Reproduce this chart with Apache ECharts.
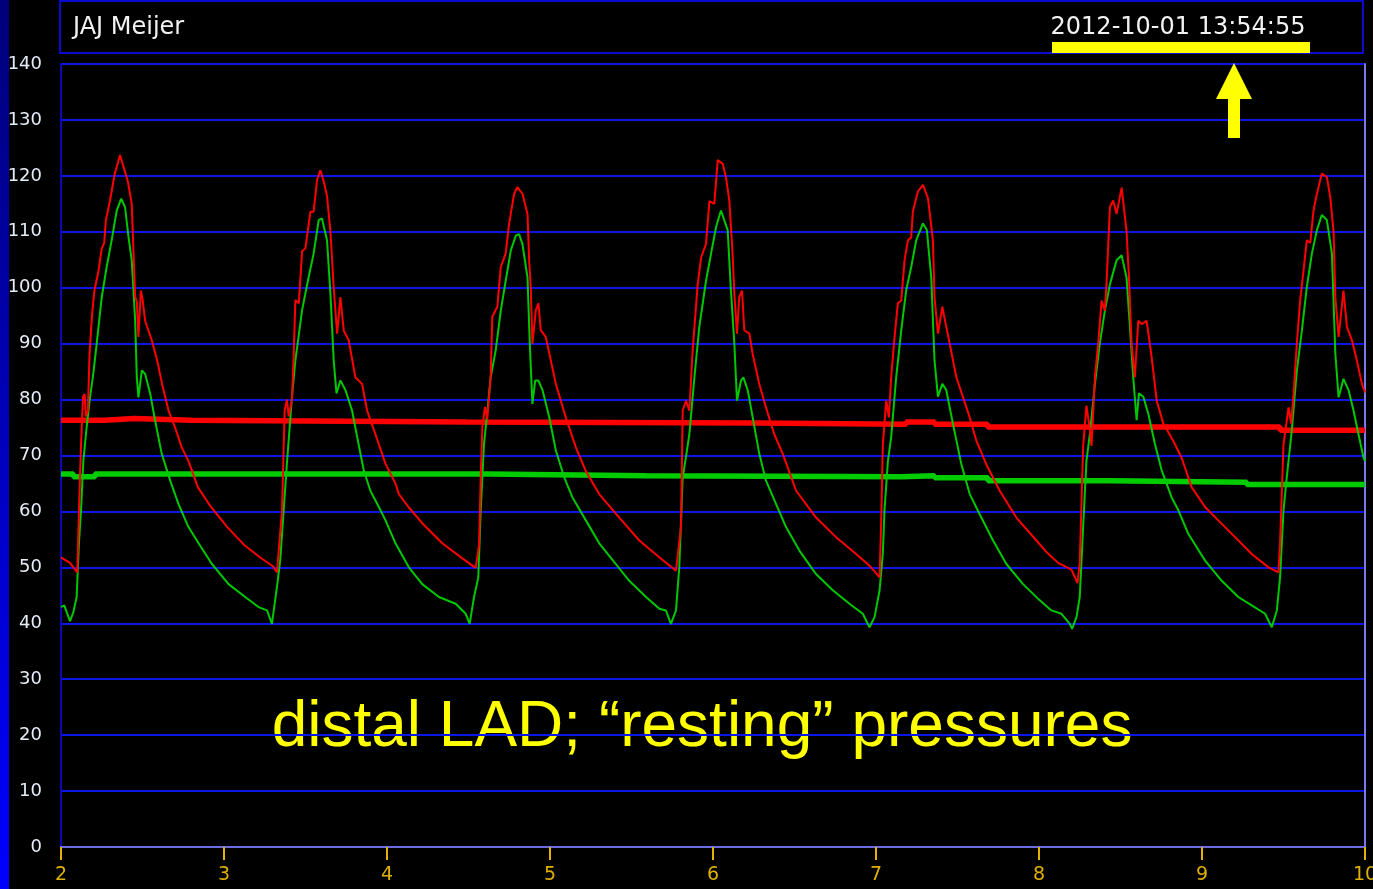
<!DOCTYPE html>
<html>
<head>
<meta charset="utf-8">
<script src="https://cdn.jsdelivr.net/npm/echarts@6/dist/echarts.min.js"></script>
<style>
  html, body { margin: 0; padding: 0; background: #000; }
  #chart { width: 1373px; height: 889px; }
</style>
</head>
<body>
<div id="chart"></div>
<script>
// aortic pressure (red), seconds / mmHg
var aorticPressure = [
  [2.0,51.8],[2.055,50.8],[2.10,49.1],[2.11,60],[2.123,72],[2.135,80.5],[2.145,81],[2.152,77],[2.165,78],[2.175,88],[2.19,95],[2.205,99.5],[2.23,103],[2.25,107],[2.265,108],[2.275,112],[2.30,115.5],[2.33,120.4],[2.362,123.7],[2.39,121],[2.41,119],[2.434,115],[2.445,106],[2.455,98.4],[2.465,97.5],[2.475,91.2],[2.49,99.5],[2.5,98],[2.516,94.1],[2.557,90.6],[2.59,87],[2.62,82.8],[2.66,78],[2.70,75],[2.74,71.5],[2.782,69],[2.84,64.3],[2.92,60.8],[3.02,57.2],[3.12,54.1],[3.22,51.8],[3.30,50.2],[3.325,49.1],
  [3.356,60.2],[3.372,78],[3.386,80],[3.397,77],[3.417,80],[3.427,87.5],[3.438,97.8],[3.459,97.2],[3.479,106.5],[3.499,107],[3.53,113.6],[3.55,113.6],[3.571,119.3],[3.591,121],[3.612,119],[3.632,116.4],[3.653,110],[3.673,100],[3.694,91.8],[3.714,98.3],[3.735,92.3],[3.765,90.6],[3.806,84],[3.847,82.8],[3.878,78],[3.929,73.8],[3.991,68.5],[4.052,65],[4.073,63.1],[4.134,60.7],[4.216,57.9],[4.339,54.3],[4.462,51.6],[4.544,49.9],
  [4.565,54],[4.575,66],[4.585,75],[4.601,78.7],[4.615,76.5],[4.636,84],[4.646,94.8],[4.677,96.6],[4.698,103.7],[4.728,106.1],[4.749,111.4],[4.78,116.8],[4.8,118],[4.831,116.8],[4.862,113.2],[4.872,105],[4.882,100],[4.892,90],[4.913,96],[4.929,97.2],[4.943,92.4],[4.974,91.2],[5.036,82.8],[5.097,76.8],[5.159,71.4],[5.22,67.2],[5.302,63.1],[5.425,58.9],[5.548,54.8],[5.67,51.8],[5.773,49.4],
  [5.804,57.3],[5.814,78],[5.834,79.8],[5.855,78],[5.875,88.7],[5.906,100.6],[5.927,105.4],[5.957,107.8],[5.978,115.5],[6.008,115],[6.029,122.8],[6.059,122.2],[6.079,119.8],[6.1,115.6],[6.12,106.1],[6.131,98.9],[6.147,91.8],[6.161,98.3],[6.178,99.5],[6.192,92.4],[6.223,91.8],[6.243,88.2],[6.284,82.8],[6.325,78.6],[6.376,73.8],[6.428,70.3],[6.51,63.7],[6.632,58.9],[6.755,55.4],[6.878,52.4],[6.96,50.3],[7.022,48.2],
  [7.032,58.3],[7.042,72],[7.063,79.8],[7.079,76.8],[7.093,84],[7.114,91.2],[7.134,97.2],[7.155,97.7],[7.175,104.9],[7.196,108.5],[7.216,109],[7.226,113.6],[7.257,117.2],[7.288,118.4],[7.319,116],[7.349,108.5],[7.359,98.3],[7.38,91.8],[7.407,96.6],[7.431,93],[7.452,90],[7.493,84],[7.534,80.4],[7.575,76.8],[7.616,72.6],[7.677,68.4],[7.759,63.7],[7.861,58.9],[7.984,54.8],[8.05,52.6],[8.117,50.8],[8.199,49.6],[8.236,47.2],
  [8.25,50.8],[8.271,71.7],[8.291,78.9],[8.312,74.7],[8.322,71.7],[8.343,84],[8.363,89.9],[8.384,97.7],[8.404,95.9],[8.414,100.6],[8.435,114.4],[8.455,115.6],[8.476,113.2],[8.507,117.9],[8.537,110.1],[8.552,101.8],[8.568,89.9],[8.588,84],[8.609,94.1],[8.63,93.5],[8.66,94.1],[8.691,87.6],[8.722,79.8],[8.763,75.7],[8.824,72.6],[8.875,69.6],[8.937,64.3],[9.019,60.8],[9.1,58.4],[9.203,55.4],[9.305,52.4],[9.408,50],[9.469,49.1],
  [9.479,54.3],[9.5,72],[9.531,78.6],[9.547,75.7],[9.562,81.1],[9.582,90],[9.602,97.7],[9.623,103.1],[9.643,108.5],[9.664,108],[9.684,113.8],[9.705,116.8],[9.735,120.4],[9.766,119.8],[9.787,116.2],[9.807,110.1],[9.818,98.3],[9.838,91.2],[9.868,99.5],[9.889,93],[9.92,90.6],[9.95,87],[9.981,82.8],[10.0,81.3]
]

// distal coronary pressure (green)
var distalPressure = [
  [2.0,42.9],[2.02,43.2],[2.055,40.4],[2.076,42],[2.096,44.7],[2.11,54.3],[2.123,60.2],[2.137,69],[2.157,75],[2.178,80.4],[2.198,84.6],[2.219,90],[2.25,98.3],[2.28,103.7],[2.311,108.5],[2.342,113.8],[2.369,115.9],[2.393,114.4],[2.414,109.1],[2.434,104.9],[2.455,94.1],[2.465,84],[2.475,80.4],[2.496,85.2],[2.516,84.6],[2.547,81.1],[2.577,76.3],[2.618,70.3],[2.67,65.5],[2.721,61.3],[2.782,57.2],[2.844,54.3],[2.926,50.6],[3.028,47],[3.13,44.7],[3.212,42.9],[3.264,42.3],[3.294,39.9],
  [3.325,46.5],[3.345,51.3],[3.366,60.2],[3.386,68.6],[3.417,80.5],[3.438,87],[3.479,96],[3.52,102],[3.55,106.1],[3.581,112.1],[3.601,112.4],[3.632,108.5],[3.653,98.9],[3.673,87],[3.69,81.1],[3.714,83.4],[3.745,81.7],[3.786,78],[3.817,73.3],[3.857,67.4],[3.898,63.7],[3.95,60.8],[3.991,58.4],[4.052,54.3],[4.134,50],[4.216,47],[4.319,44.7],[4.421,43.5],[4.483,41.7],[4.507,39.9],
  [4.534,44.7],[4.56,48.2],[4.575,60.2],[4.595,72],[4.616,78],[4.636,84],[4.667,88.8],[4.698,95.9],[4.728,101.2],[4.759,106.6],[4.79,109.3],[4.81,109.6],[4.831,107.8],[4.862,101.8],[4.876,90],[4.892,79.2],[4.909,83.4],[4.929,83.4],[4.954,81.7],[4.995,76.9],[5.036,70.9],[5.087,66.1],[5.138,62.5],[5.22,58.4],[5.302,54.3],[5.404,50.6],[5.486,47.6],[5.589,44.7],[5.671,42.6],[5.711,42.3],[5.742,39.9],
  [5.773,42.3],[5.793,50],[5.814,66.1],[5.834,69.7],[5.855,73.8],[5.886,84],[5.916,93],[5.957,101.2],[5.988,106.1],[6.019,110.9],[6.049,113.8],[6.059,113.8],[6.09,110.3],[6.11,99.5],[6.131,90],[6.147,79.8],[6.172,83.4],[6.186,84],[6.213,81.7],[6.243,76.9],[6.284,70.3],[6.325,65.5],[6.387,61.3],[6.448,57.2],[6.53,53],[6.632,48.8],[6.735,45.9],[6.837,43.5],[6.919,41.7],[6.96,39.3],
  [6.991,41.1],[7.022,45.9],[7.042,52.5],[7.052,60.2],[7.073,69],[7.093,73.3],[7.124,84],[7.155,92.4],[7.185,99.5],[7.216,103.7],[7.247,108.5],[7.288,111.5],[7.312,110.3],[7.339,101.8],[7.359,87],[7.38,80.5],[7.407,82.8],[7.431,81.7],[7.472,75.7],[7.523,68.5],[7.575,63.1],[7.636,59.5],[7.718,54.8],[7.8,50.6],[7.902,47],[8.005,44.1],[8.076,42.3],[8.138,41.7],[8.189,39.9],[8.203,39],
  [8.23,41.1],[8.25,44.7],[8.271,57.3],[8.291,69],[8.312,73.8],[8.343,82.8],[8.373,90],[8.404,95.9],[8.435,100.6],[8.476,104.9],[8.507,105.8],[8.537,101.8],[8.558,92.9],[8.578,84],[8.599,76.3],[8.613,81.1],[8.64,80.5],[8.67,77.5],[8.711,72.1],[8.752,67.4],[8.814,62.5],[8.855,60.2],[8.916,56],[9.019,51.2],[9.121,47.6],[9.223,44.7],[9.305,43.2],[9.387,41.7],[9.428,39.3],
  [9.459,42.3],[9.479,48.2],[9.5,60.2],[9.52,66.1],[9.551,74.5],[9.582,85.2],[9.613,92.4],[9.643,100.1],[9.674,106.1],[9.705,110.3],[9.735,113],[9.766,112.1],[9.797,106.1],[9.818,88.2],[9.838,80.4],[9.868,83.7],[9.899,81.7],[9.93,78],[9.96,73.8],[9.991,69.6],[10.0,69]
]

// running means (thick lines)
var aorticMean = [[2.0,76.3],[2.27,76.6],[2.45,76.3],[2.8,76.0],[4.49,75.8],[6.26,75.6],[7.185,76.0],[7.36,75.6],[7.685,75.1],[9.479,74.5],[10,74.5]]
var distalMean = [[2.0,66.7],[2.076,66.2],[2.209,66.7],[4.616,66.4],[5.589,66.2],[7.155,66.4],[7.359,66.0],[7.687,65.5],[8.435,65.2],[9.275,64.8],[10,64.8]]

var patientName = 'JAJ Meijer'
var timeStamp = '2012-10-01 13:54:55'
var caption = 'distal LAD; \u201Cresting\u201D pressures'

var chart = echarts.init(document.getElementById('chart'))

chart.setOption({
  backgroundColor: '#000',
  animation: false,
  grid: { left: 61, right: 8, top: 64, bottom: 42, containLabel: false, outerBoundsMode: 'none' },
  xAxis: {
    type: 'value', min: 2, max: 10, interval: 1,
    axisLine: { show: true, onZero: false, lineStyle: { color: '#6c6ce6', width: 2 } },
    axisTick: { show: true, length: 13, lineStyle: { color: '#e0b400', width: 2 } },
    axisLabel: { color: '#e0b000', fontSize: 19, fontFamily: 'DejaVu Sans', margin: 19 },
    splitLine: { show: false }
  },
  yAxis: [{
    type: 'value', min: 0, max: 140, interval: 10,
    axisLine: { show: true, lineStyle: { color: '#0a0ab4', width: 2 } },
    axisTick: { show: false },
    axisLabel: { color: '#e4ecf6', fontSize: 18, fontFamily: 'DejaVu Sans', margin: 19 },
    splitLine: { show: true, lineStyle: { color: '#0b16e8', width: 2 } }
  }, {
    type: 'value', min: 0, max: 140, position: 'right',
    axisLine: { show: true, lineStyle: { color: '#7a7aee', width: 2 } },
    axisTick: { show: false },
    axisLabel: { show: false },
    splitLine: { show: false }
  }],
  series: [
    {
      name: 'Pa mean', type: 'line', data: aorticMean, step: 'end', showSymbol: false,
      lineStyle: { color: '#ff0000', width: 5.5 }, z: 2
    },
    {
      name: 'Pd mean', type: 'line', data: distalMean, step: 'end', showSymbol: false,
      lineStyle: { color: '#00cc00', width: 5.5 }, z: 2
    },
    {
      name: 'Pd', type: 'line', data: distalPressure, showSymbol: false,
      lineStyle: { color: '#00c800', width: 2 }, z: 3
    },
    {
      name: 'Pa', type: 'line', data: aorticPressure, showSymbol: false,
      lineStyle: { color: '#ff0000', width: 2 }, z: 4
    }
  ],
  graphic: [
    {
      type: 'rect', z: 10,
      shape: { x: 0, y: 0, width: 9, height: 889 },
      style: {
        fill: new echarts.graphic.LinearGradient(0, 0, 0, 1, [
          { offset: 0, color: '#00007a' },
          { offset: 1, color: '#0000ff' }
        ])
      }
    },
    {
      type: 'rect', z: 10,
      shape: { x: 60, y: 1, width: 1303, height: 52 },
      style: { fill: 'none', stroke: '#0a0ad2', lineWidth: 2 }
    },
    {
      type: 'text', z: 10,
      style: { x: 73, y: 28, text: patientName, fill: '#f2f2f2', font: '24px "DejaVu Sans"', textVerticalAlign: 'middle' }
    },
    {
      type: 'text', z: 10,
      style: { x: 1178, y: 28, text: timeStamp, fill: '#f2f2f2', font: '24px "DejaVu Sans"', textAlign: 'center', textVerticalAlign: 'middle' }
    },
    {
      type: 'rect', z: 11,
      shape: { x: 1052, y: 42, width: 258, height: 11 },
      style: { fill: '#ffff00' }
    },
    {
      type: 'polygon', z: 11,
      shape: { points: [[1234, 63], [1252, 99], [1240, 99], [1240, 138], [1228, 138], [1228, 99], [1216, 99]] },
      style: { fill: '#ffff00' }
    },
    {
      type: 'text', z: -100,
      style: { x: 702, y: 728, text: caption, fill: '#ffff00', font: '64px "Liberation Sans"', textAlign: 'center', textVerticalAlign: 'middle' }
    }
  ]
})
</script>
</body>
</html>
